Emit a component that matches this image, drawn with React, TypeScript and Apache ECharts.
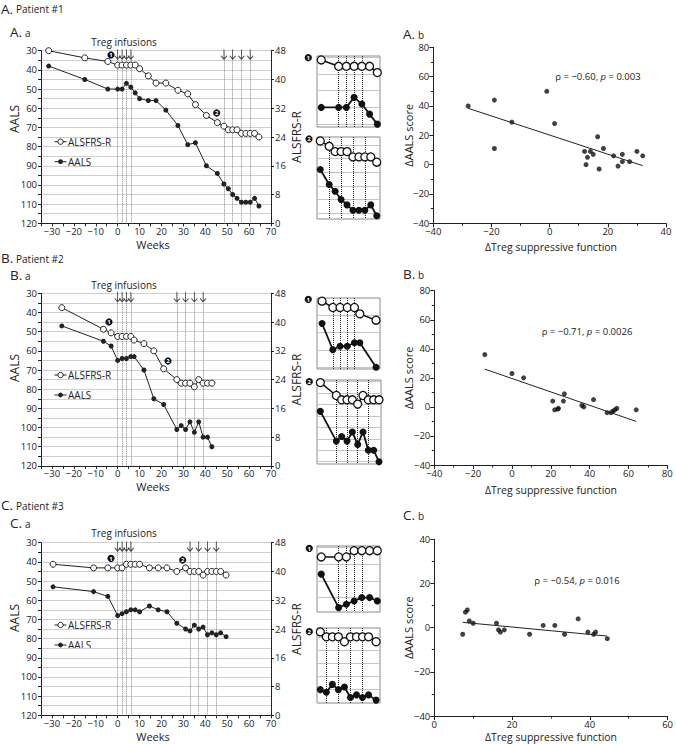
import React, { useEffect, useRef } from "react";
import * as echarts from "echarts";

// ---------- Patient #1 ----------
const weeksA = [-31.5, -15, -4.5, 0, 2, 4, 6, 8, 10, 14, 17.5, 22, 27.5, 32, 35.5, 40.5, 45.5, 48.5, 50.5, 52.5, 54.5, 56.5, 58.5, 60.5, 62.5, 64.5];
const aalsA = [38, 45, 50, 50, 50, 47, 49, 52, 55, 56, 56, 61, 69, 79, 78, 90, 94, 99.5, 102, 105, 107, 109, 109, 109, 107, 111];
const alsfrsA = [48, 46, 45, 44, 44, 44, 44, 44, 43, 41, 39, 39, 37, 36, 33, 30, 28, 27, 26, 26, 26, 25, 25, 25, 25, 24];
const infusionsA = [0, 2, 4, 6, 48.5, 52.5, 56.5, 60.5];

// ---------- Patient #2 ----------
const weeksB = [-25.5, -6.5, -3, 0, 2, 4, 6, 7.5, 12, 16.5, 21, 27, 29, 31, 33, 35, 37, 39, 41, 43];
const aalsB = [47, 55, 57.5, 65, 64, 64, 63, 63, 70, 85, 88, 101, 99, 101, 97, 102.5, 97, 105, 105, 110];
const alsfrsB = [44, 38, 37, 36, 36, 36, 36, 35, 34, 32, 27, 24, 23, 23, 23, 22, 24, 23, 23, 23];
const infusionsB = [0, 2, 4, 6, 27, 31, 35, 39];

// ---------- Patient #3 ----------
const weeksC = [-29.5, -11, -4.5, 0, 2, 4, 6, 8, 10, 14.5, 18.5, 22.5, 27, 31, 33, 35, 37, 39, 41, 43, 45, 47, 49.5];
const aalsC = [53, 55.5, 58, 68, 67, 66, 65, 65, 66, 63, 65, 66, 72, 75, 76, 73, 75, 74, 78, 77, 78, 77, 79];
const alsfrsC = [42, 41, 41, 41, 41, 42, 42, 42, 42, 41, 41, 41, 40, 41, 40, 40, 40, 39, 40, 40, 40, 40, 39];
const infusionsC = [0, 2, 4, 6, 33, 37, 41, 45];

// ---------- Correlation scatters ----------
const tregA = [-28, -19, -19, -13, -1, 1.7, 12, 12.5, 13, 14, 15, 16.5, 17, 18.5, 22, 23.5, 25, 25, 27.5, 30, 32];
const deltaA = [40, 44, 11, 29, 50, 28, 9, 0, 5, 9, 7, 19, -3, 11, 6, -1, 7, 2, 2, 9, 6];
const fitA = [[-28, 38.4], [32, -0.7]];
const tregB = [-14, 0, 6, 21, 22, 23.5, 24, 26.5, 27, 36, 37, 42, 49, 51, 52, 53, 54, 64];
const deltaB = [36, 23, 20, 4, -2, -1.5, -1, 4, 9, 1, 0, 5, -4, -4, -3, -2, -1, -2];
const fitB = [[-14, 26], [64, -10]];
const tregC = [7.3, 8, 8.5, 9, 10, 16, 16.5, 17, 18, 24.5, 28, 31, 33.5, 37, 39.5, 41, 41.5, 44.5];
const deltaC = [-3, 7, 8, 3, 2, 2, -1, -2, -1, -3, 1, 1, -3, 4, -2, -3, -2, -5];
const fitC = [[7.3, 2.4], [44.4, -3.8]];

const rhoTexts = ["\u03c1 = \u22120.60, ", "\u03c1 = \u22120.71, ", "\u03c1 = \u22120.54, "];
const pTexts = [" = 0.003", " = 0.0026", " = 0.016"];

const FONT = '"Open Sans", "Noto Sans", sans-serif';
const INK = "#222";
const fmt = (v: number) => (v < 0 ? "\u2212" + Math.abs(v) : String(v));
const ARROW = "path://M4,0 L4,12 M0,8 L4,12 L8,8";

function txt(text: string, x: number, y: number, size: number, o: any = {}) {
  return {
    type: "text",
    x,
    y,
    rotation: o.rotation || 0,
    silent: true,
    style: {
      text,
      fontSize: size,
      fontFamily: FONT,
      fill: o.fill || INK,
      fontWeight: o.weight || "normal",
      fontStyle: o.italic ? "italic" : "normal",
      align: o.align || "left",
      textAlign: o.align || "left",
      verticalAlign: "middle",
      textVerticalAlign: "middle",
    },
  };
}

function badge(n: number, x: number, y: number) {
  return {
    type: "group",
    x,
    y,
    silent: true,
    z: 10,
    children: [
      { type: "circle", z: 10, shape: { cx: 0, cy: 0, r: 3.6 }, style: { fill: "#111" } },
      {
        type: "text", z: 11,
        style: {
          text: String(n), x: 0, y: 0.4, fontSize: 6, fontWeight: "bold", fontFamily: FONT, fill: "#fff",
          align: "center", textAlign: "center", verticalAlign: "middle", textVerticalAlign: "middle",
        },
      },
    ],
  };
}

function buildOption() {
  const grid: any[] = [];
  const xAxis: any[] = [];
  const yAxis: any[] = [];
  const series: any[] = [];
  const graphic: any[] = [];
  const addG = (g: any) => (grid.push(g), grid.length - 1);
  const addX = (a: any) => (xAxis.push(a), xAxis.length - 1);
  const addY = (a: any) => (yAxis.push(a), yAxis.length - 1);

  const axisText = { fontSize: 9.5, color: INK, fontFamily: FONT };
  const mains = [
    { top: 50.7, weeks: weeksA, aals: aalsA, alsfrs: alsfrsA, inf: infusionsA },
    { top: 293.3, weeks: weeksB, aals: aalsB, alsfrs: alsfrsB, inf: infusionsB },
    { top: 542.7, weeks: weeksC, aals: aalsC, alsfrs: alsfrsC, inf: infusionsC },
  ];
  const H = 172.6;

  mains.forEach((m) => {
    const gi = addG({ left: 41, top: m.top, width: 230, height: H });
    const xi = addX({
      type: "value", gridIndex: gi, min: -35, max: 70, interval: 5,
      axisLine: { onZero: false, lineStyle: { color: INK } },
      axisTick: { length: 3, lineStyle: { color: INK } },
      axisLabel: { ...axisText, margin: 3, formatter: (v: number) => (v % 10 === 0 ? fmt(v) : "") },
      splitLine: { show: false },
    });
    const yl = addY({
      type: "value", gridIndex: gi, inverse: true, min: 30, max: 120, interval: 5, position: "left",
      axisLine: { show: true, onZero: false, lineStyle: { color: INK } },
      axisTick: { show: true, length: 3, lineStyle: { color: INK } },
      axisLabel: { ...axisText, margin: 4, formatter: (v: number) => (v % 10 === 0 ? String(v) : "") },
      splitLine: { show: true, lineStyle: { color: "#cfcfcf", width: 1 } },
    });
    const yr = addY({
      type: "value", gridIndex: gi, min: 0, max: 48, interval: 8, position: "right",
      axisLine: { show: true, onZero: false, lineStyle: { color: INK } },
      axisTick: { show: true, length: 3, lineStyle: { color: INK } },
      axisLabel: { ...axisText, margin: 4 },
      splitLine: { show: false },
    });
    series.push({
      type: "line", xAxisIndex: xi, yAxisIndex: yl, z: 3,
      data: m.weeks.map((w, i) => [w, m.aals[i]]),
      symbol: "circle", symbolSize: 5, showSymbol: true,
      lineStyle: { color: INK, width: 1 }, itemStyle: { color: INK },
      markLine: {
        silent: true, z: 1, symbol: ["none", "none"], label: { show: false },
        lineStyle: { type: "dotted", color: "#888", width: 1 },
        data: m.inf.map((w) => ({ xAxis: w })),
      },
    });
    series.push({
      type: "line", xAxisIndex: xi, yAxisIndex: yr, z: 3,
      data: m.weeks.map((w, i) => [w, m.alsfrs[i]]),
      symbol: "circle", symbolSize: 6,
      lineStyle: { color: INK, width: 1 },
      itemStyle: { color: "#fff", borderColor: INK, borderWidth: 1 },
    });
    series.push({
      type: "scatter", xAxisIndex: xi, yAxisIndex: yl, clip: false, silent: true, z: 4,
      data: m.inf.map((w) => [w, 31.8]),
      symbol: ARROW, symbolSize: [6, 10],
      itemStyle: { color: "none", borderColor: INK, borderWidth: 1 },
    });
  });

  // ---------- insets ----------
  const insets = [
    { left: 317, top: 56, width: 63, height: 71, src: 0, from: 2, to: 8, x: [-5.6, 10.7], a: [34.65, 55.85], f: [34.37, 45.63] },
    { left: 317, top: 137, width: 63, height: 82, src: 0, from: 16, to: 25, x: [44.4, 65.6], a: [82, 112.2], f: [13.3, 28.75] },
    { left: 317, top: 298, width: 63, height: 71, src: 1, from: 2, to: 8, x: [-4.4, 13.1], a: [50.2, 70.5], f: [26.3, 37.5] },
    { left: 317, top: 380, width: 64, height: 84, src: 1, from: 10, to: 19, x: [19.75, 43.75], a: [74.3, 111.0], f: [8.1, 27.6] },
    { left: 317, top: 546, width: 63, height: 66, src: 2, from: 2, to: 8, x: [-5.6, 10.7], a: [49.6, 69.3], f: [32.2, 42.75] },
    { left: 317, top: 628, width: 63, height: 75, src: 2, from: 13, to: 22, x: [29.9, 50.8], a: [51.5, 80.1], f: [26.5, 41.8] },
  ];
  insets.forEach((ins) => {
    const m = mains[ins.src];
    const gi = addG({ left: ins.left, top: ins.top, width: ins.width, height: ins.height, show: true, borderColor: "#8a8a8a", borderWidth: 1 });
    const xi = addX({ type: "value", gridIndex: gi, min: ins.x[0], max: ins.x[1], show: false, splitLine: { show: false } });
    const yl = addY({ type: "value", gridIndex: gi, inverse: true, min: ins.a[0], max: ins.a[1], show: false, splitLine: { show: false } });
    const yr = addY({ type: "value", gridIndex: gi, min: ins.f[0], max: ins.f[1], show: false, splitLine: { show: false } });
    const idx: number[] = [];
    for (let i = ins.from; i <= ins.to; i++) idx.push(i);
    const gl: number[] = [];
    for (let v = Math.ceil(ins.a[0] / 5) * 5; v < ins.a[1]; v += 5) gl.push(v);
    const inf = m.inf.filter((w) => w > ins.x[0] && w < ins.x[1]);
    series.push({
      type: "line", xAxisIndex: xi, yAxisIndex: yl, z: 3,
      data: idx.map((i) => [m.weeks[i], m.aals[i]]),
      symbol: "circle", symbolSize: 7,
      lineStyle: { color: "#111", width: 1.8 }, itemStyle: { color: "#111" },
      markLine: {
        silent: true, z: 1, symbol: ["none", "none"], label: { show: false },
        data: [
          ...gl.map((v) => ({ yAxis: v, lineStyle: { type: "solid", color: "#c4c4c4", width: 1 } })),
          ...inf.map((w) => ({ xAxis: w, lineStyle: { type: "dotted", color: "#222", width: 1 } })),
        ],
      },
    });
    series.push({
      type: "line", xAxisIndex: xi, yAxisIndex: yr, z: 3,
      data: idx.map((i) => [m.weeks[i], m.alsfrs[i]]),
      symbol: "circle", symbolSize: 8,
      lineStyle: { color: "#111", width: 1.5 },
      itemStyle: { color: "#fff", borderColor: "#111", borderWidth: 1.3 },
    });
  });

  // ---------- scatter panels ----------
  const scat = [
    { left: 433.3, top: 47.3, width: 232.7, height: 176, x: [-40, 40], y: [-40, 80], xs: tregA, ys: deltaA, fit: fitA },
    { left: 434.3, top: 290.7, width: 233, height: 174.3, x: [-40, 80], y: [-40, 80], xs: tregB, ys: deltaB, fit: fitB },
    { left: 434.3, top: 539.3, width: 234, height: 176.7, x: [0, 60], y: [-40, 40], xs: tregC, ys: deltaC, fit: fitC },
  ];
  scat.forEach((s) => {
    const gi = addG({ left: s.left, top: s.top, width: s.width, height: s.height });
    const common = {
      type: "value", gridIndex: gi, interval: 20,
      axisLine: { show: true, onZero: false, lineStyle: { color: INK } },
      axisTick: { show: true, length: 4, lineStyle: { color: INK } },
      minorTick: { show: true, splitNumber: 2, length: 2.5, lineStyle: { color: INK } },
      axisLabel: { ...axisText, margin: 3, formatter: (v: number) => fmt(v) },
      splitLine: { show: false },
    };
    const xi = addX({ ...common, min: s.x[0], max: s.x[1] });
    const yi = addY({ ...common, axisLabel: { ...common.axisLabel, margin: 4 }, min: s.y[0], max: s.y[1] });
    series.push({
      type: "line", xAxisIndex: xi, yAxisIndex: yi, data: s.fit, symbol: "none", silent: true,
      lineStyle: { color: INK, width: 1 },
    });
    series.push({
      type: "scatter", xAxisIndex: xi, yAxisIndex: yi, symbolSize: 5,
      data: s.xs.map((x, i) => [x, s.ys[i]]), itemStyle: { color: "#111" },
    });
  });

  // ---------- text & annotations ----------
  const letters = ["A", "B", "C"];
  const titleY = [8.5, 258.3, 505];
  const subY = [31.7, 275, 523.3];
  const sideY = [34, 274, 515];
  letters.forEach((L, k) => {
    graphic.push(txt(L + ".", 1, titleY[k], 13.5));
    graphic.push(txt("Patient #" + (k + 1), 16, titleY[k] + 0.8, 10));
    graphic.push(txt(L + ".", 10, subY[k], 13.5));
    graphic.push(txt("a", 25, subY[k] + 0.8, 10));
    graphic.push(txt(L + ".", 403, sideY[k], 13.5));
    graphic.push(txt("b", 418, sideY[k] + 0.8, 10));
  });

  const mainTops = mains.map((m) => m.top);
  const tregY = [41.7, 285, 533.3];
  const aalsTitleY = [119, 368, 618];
  const legendY = [141.7, 375, 625];
  mainTops.forEach((t, k) => {
    graphic.push(txt("Treg infusions", 124, tregY[k], 10, { align: "center" }));
    graphic.push(txt("AALS", 14, aalsTitleY[k], 12, { align: "center", rotation: Math.PI / 2 }));
    graphic.push(txt("ALSFRS-R", 296.5, t + H / 2, 12, { align: "center", rotation: Math.PI / 2 }));
    graphic.push(txt("Weeks", 153, t + H + 21, 11, { align: "center" }));
    // legend
    const ly = legendY[k];
    graphic.push({ type: "line", silent: true, shape: { x1: 54.5, y1: ly, x2: 66.5, y2: ly }, style: { stroke: INK, lineWidth: 1 } });
    graphic.push({ type: "circle", silent: true, shape: { cx: 60.5, cy: ly, r: 2.7 }, style: { fill: "#fff", stroke: INK, lineWidth: 1 } });
    graphic.push(txt("ALSFRS-R", 68, ly, 10));
    const ly2 = ly + 20;
    graphic.push({ type: "line", silent: true, shape: { x1: 54.5, y1: ly2, x2: 66.5, y2: ly2 }, style: { stroke: INK, lineWidth: 1 } });
    graphic.push({ type: "circle", silent: true, shape: { cx: 60.5, cy: ly2, r: 2.4 }, style: { fill: INK } });
    graphic.push(txt("AALS", 68, ly2, 10));
  });

  // badges
  const badgesMain = [[111, 55], [216.7, 113], [109, 322], [168, 361], [111, 558.3], [182.7, 560]];
  const badgesInset = [[308.3, 57.7], [309, 139], [308.3, 299.3], [309.3, 381.7], [309.3, 548.3], [309.3, 631.7]];
  badgesMain.forEach((b, i) => graphic.push(badge((i % 2) + 1, b[0], b[1])));
  badgesInset.forEach((b, i) => graphic.push(badge((i % 2) + 1, b[0], b[1])));

  // scatter titles and stats
  const rhoPos = [[598, 76.7], [587, 331.7], [577, 580]];
  const xTitleY = [247, 490, 736.5];
  scat.forEach((s, k) => {
    graphic.push(txt("\u0394AALS score", 408, s.top + s.height / 2, 11, { align: "center", rotation: Math.PI / 2 }));
    graphic.push(txt("\u0394Treg suppressive function", 551, xTitleY[k], 10.5, { align: "center" }));
    graphic.push({
      type: "text", x: rhoPos[k][0], y: rhoPos[k][1], silent: true,
      style: {
        text: "{n|" + rhoTexts[k] + "}{i|p}{n|" + pTexts[k] + "}",
        align: "center", textAlign: "center", verticalAlign: "middle", textVerticalAlign: "middle",
        rich: {
          n: { fontSize: 9.5, fontFamily: FONT, fill: INK },
          i: { fontSize: 9.5, fontFamily: FONT, fill: INK, fontStyle: "italic" },
        },
      },
    });
  });

  return { animation: false, backgroundColor: "#fff", grid, xAxis, yAxis, series, graphic };
}

export default function App() {
  const ref = useRef<HTMLDivElement>(null);
  useEffect(() => {
    document.body.style.margin = "0";
    const chart = echarts.init(ref.current!, null, { renderer: "svg" });
    chart.setOption(buildOption() as any);
    return () => chart.dispose();
  }, []);
  return <div ref={ref} style={{ width: 676, height: 744 }} />;
}
